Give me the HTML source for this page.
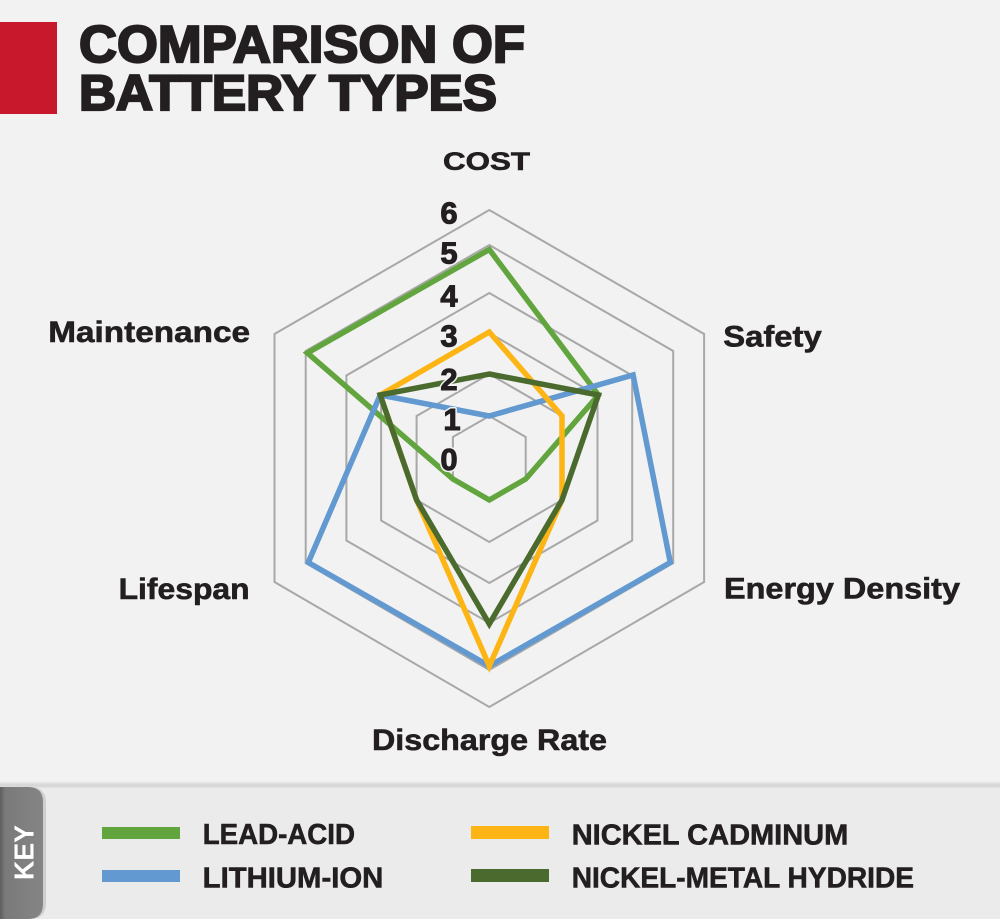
<!DOCTYPE html>
<html>
<head>
<meta charset="utf-8">
<style>
  html,body{margin:0;padding:0;background:#f2f2f2;}
  body{width:1000px;height:919px;overflow:hidden;}
  svg{display:block;}
  text{font-family:"Liberation Sans",Arial,sans-serif;font-weight:bold;}
</style>
</head>
<body>
<svg width="1000" height="919" viewBox="0 0 1000 919" xmlns="http://www.w3.org/2000/svg">
  <defs>
    <linearGradient id="sep" x1="0" y1="0" x2="0" y2="1">
      <stop offset="0" stop-color="#f2f2f2"/>
      <stop offset="0.6" stop-color="#d4d4d4"/>
      <stop offset="1" stop-color="#e3e3e3"/>
    </linearGradient>
    <linearGradient id="tab" x1="0" y1="0" x2="1" y2="0">
      <stop offset="0" stop-color="#5e5e5e"/>
      <stop offset="0.12" stop-color="#7a7a7a"/>
      <stop offset="1" stop-color="#858585"/>
    </linearGradient>
  </defs>
  <rect x="0" y="0" width="1000" height="919" fill="#f2f2f2"/>

  <!-- Title -->
  <rect x="0" y="22" width="57" height="92" fill="#c8182c"/>
  <text x="79" y="62" font-size="52" fill="#231f20" stroke="#231f20" stroke-width="2.2" textLength="446" lengthAdjust="spacingAndGlyphs">COMPARISON OF</text>
  <text x="79" y="110" font-size="50" fill="#231f20" stroke="#231f20" stroke-width="2.2" textLength="418" lengthAdjust="spacingAndGlyphs">BATTERY TYPES</text>

  <!-- Grid -->
  <g fill="none" stroke="#a8a8a8" stroke-width="2" stroke-linejoin="miter">
    <polygon points="489.3,416 525.7,437 525.7,479 489.3,500 452.9,479 452.9,437"/>
    <polygon points="489.3,374 562,416 562,500 489.3,542 416.6,500 416.6,416"/>
    <polygon points="489.3,333 597.5,395.5 597.5,520.5 489.3,583 381.1,520.5 381.1,395.5"/>
    <polygon points="489.3,293 632.2,375.5 632.2,540.5 489.3,623 346.4,540.5 346.4,375.5"/>
    <polygon points="489.3,245 673.2,351 673.2,563 489.3,670 305.7,563 305.7,351"/>
    <polygon points="489.3,210 704.1,334 704.1,582 489.3,707 274.5,582 274.5,334"/>
  </g>

  <!-- Series -->
  <g fill="none" stroke-width="5.5" stroke-linejoin="miter" stroke-miterlimit="10">
    <polygon stroke="#62a53e" points="489.3,249.5 598.4,395 525.7,479 489.3,500 452.9,479 307.4,353"/>
    <polygon stroke="#6199d0" points="489.3,416 633.1,375 670.3,562.5 489.3,666 308.3,562.5 380.2,395"/>
    <polygon stroke="#fdb515" points="489.3,332 562,416 562,500 489.3,666 416.6,500 380.2,395"/>
    <polygon stroke="#4b6b2e" points="489.3,374 598.4,395 562,500 489.3,624 416.6,500 380.2,395"/>
  </g>

  <!-- Tick labels -->
  <g font-size="31" fill="#231f20" text-anchor="middle" stroke="#f2f2f2" stroke-width="4" paint-order="stroke" stroke-linejoin="round">
    <text x="449" y="223.3">6</text>
    <text x="449" y="263.3">5</text>
    <text x="449" y="306.7">4</text>
    <text x="449" y="346.7">3</text>
    <text x="449" y="390">2</text>
    <text x="452" y="430">1</text>
    <text x="449" y="470">0</text>
  </g>
  <g font-size="31" fill="#231f20" text-anchor="middle" stroke="#231f20" stroke-width="1">
    <text x="449" y="223.3">6</text>
    <text x="449" y="263.3">5</text>
    <text x="449" y="306.7">4</text>
    <text x="449" y="346.7">3</text>
    <text x="449" y="390">2</text>
    <text x="452" y="430">1</text>
    <text x="449" y="470">0</text>
  </g>

  <!-- Axis labels -->
  <g fill="#231f20" stroke="#231f20" stroke-width="0.6">
    <text x="443" y="170" font-size="25" textLength="87" lengthAdjust="spacingAndGlyphs">COST</text>
    <text x="723.3" y="346.7" font-size="30" textLength="98.4" lengthAdjust="spacingAndGlyphs">Safety</text>
    <text x="724" y="598.5" font-size="30" textLength="236" lengthAdjust="spacingAndGlyphs">Energy Density</text>
    <text x="372" y="750" font-size="30" textLength="235" lengthAdjust="spacingAndGlyphs">Discharge Rate</text>
    <text x="118.6" y="599" font-size="30" textLength="131" lengthAdjust="spacingAndGlyphs">Lifespan</text>
    <text x="48.3" y="342" font-size="30" textLength="201.7" lengthAdjust="spacingAndGlyphs">Maintenance</text>
  </g>

  <!-- Legend area -->
  <rect x="0" y="787" width="1000" height="132" fill="#ebebeb"/>
  <rect x="0" y="781" width="1000" height="7" fill="url(#sep)"/>
  <path d="M0,787 L28,787 Q44,787 44,803 L44,903 Q44,919 28,919 L0,919 Z" fill="#cfcfcf" transform="translate(2,0)"/>
  <path d="M0,787 L28,787 Q43,787 43,802 L43,904 Q43,919 28,919 L0,919 Z" fill="url(#tab)"/>
  <text x="0" y="0" font-size="28" fill="#ffffff" text-anchor="middle" textLength="55" lengthAdjust="spacingAndGlyphs" transform="translate(33.5,852.5) rotate(-90)">KEY</text>

  <rect x="102" y="827" width="78" height="12" fill="#62a53e"/>
  <rect x="102" y="870" width="78" height="12" fill="#6199d0"/>
  <rect x="471" y="826" width="78" height="13" fill="#fdb515"/>
  <rect x="471" y="869" width="78" height="13" fill="#4b6b2e"/>

  <g fill="#231f20" font-size="29" stroke="#231f20" stroke-width="0.6">
    <text x="202.7" y="844" textLength="152.3" lengthAdjust="spacingAndGlyphs">LEAD-ACID</text>
    <text x="202.7" y="887.3" textLength="180.6" lengthAdjust="spacingAndGlyphs">LITHIUM-ION</text>
    <text x="571.7" y="844.3" textLength="276.6" lengthAdjust="spacingAndGlyphs">NICKEL CADMINUM</text>
    <text x="571.7" y="887.3" textLength="342.3" lengthAdjust="spacingAndGlyphs">NICKEL-METAL HYDRIDE</text>
  </g>
</svg>
</body>
</html>
